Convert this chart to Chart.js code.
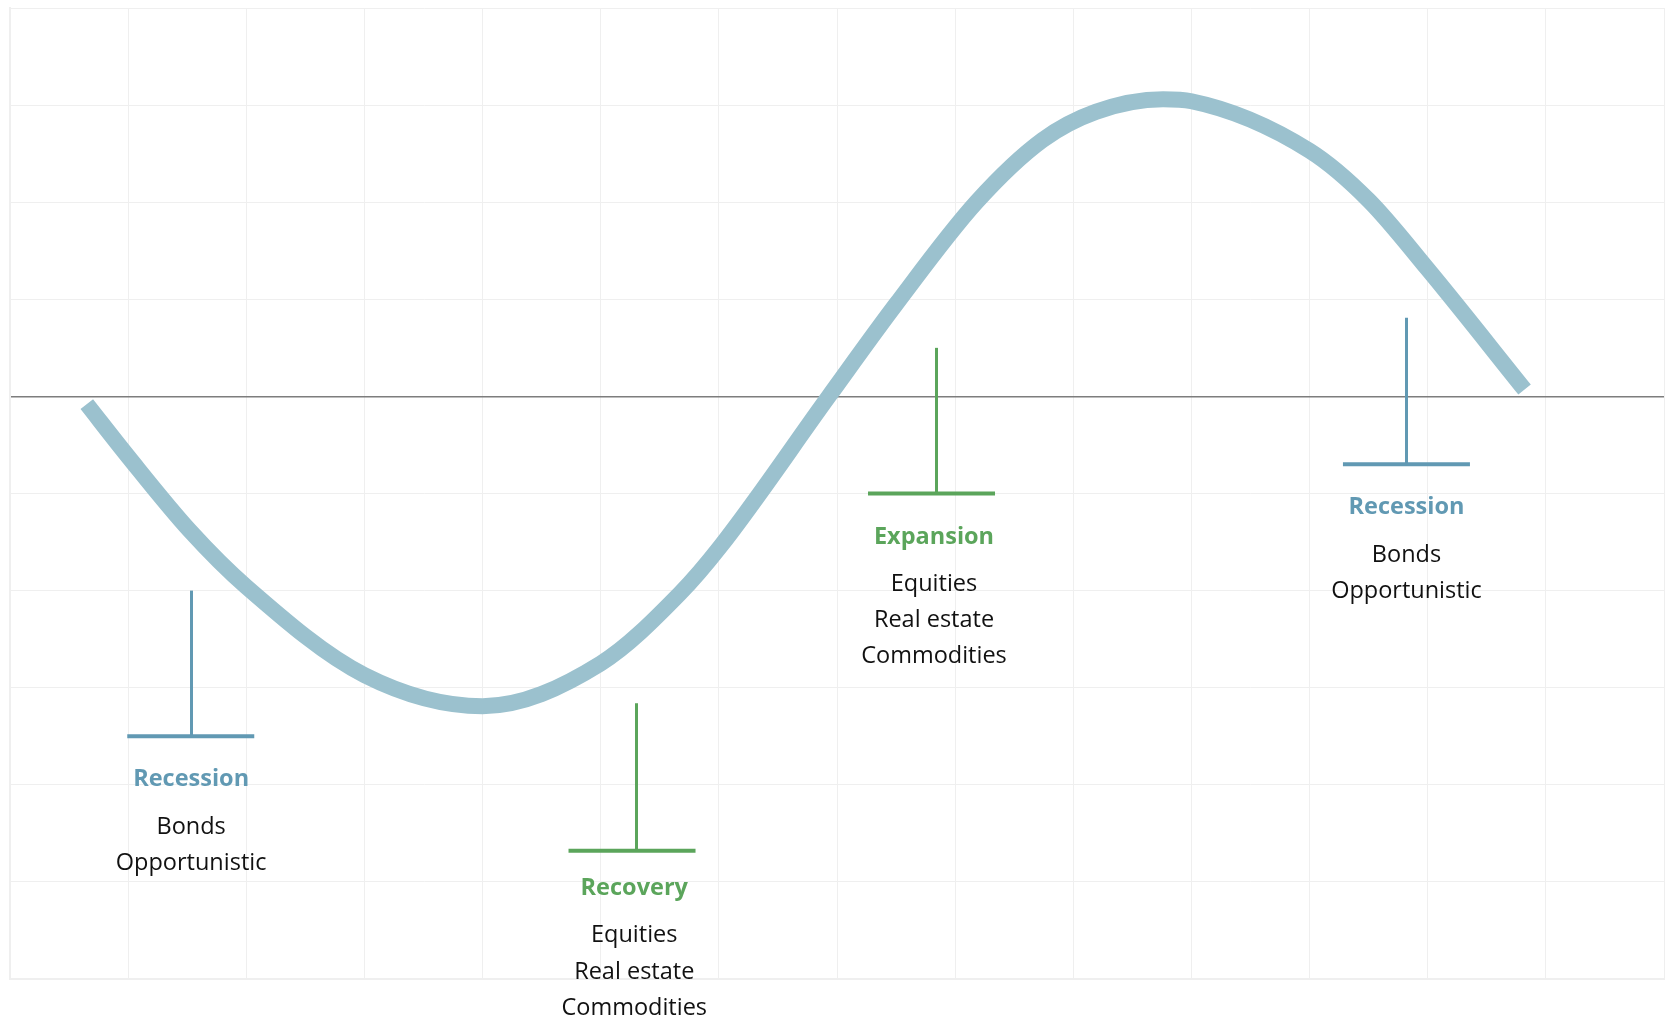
<!DOCTYPE html>
<html>
<head>
<meta charset="utf-8">
<title>Business cycle and asset allocation</title>
<script src="https://cdn.jsdelivr.net/npm/chart.js@4.4.1/dist/chart.umd.min.js"></script>
<style>
  html, body { margin: 0; padding: 0; background: #ffffff; }
  #wrap { width: 1669px; height: 1029px; }
</style>
</head>
<body>
<div id="wrap"><canvas id="cycle" width="1669" height="1029"></canvas></div>
<script>
// Business-cycle curve (x = time, y = activity relative to trend)
const curveX = [0.65, 1.0, 1.52, 2.0, 3.0, 4.0, 5.0, 5.67, 6.01, 6.93, 7.5, 8.18, 8.74, 9.19, 9.76, 10.0, 11.0, 11.5, 12.0, 12.82];
const curveY = [-0.08, -0.62, -1.38, -1.96, -2.87, -3.19, -2.75, -2.03, -1.55, 0.0, 0.95, 2.0, 2.64, 2.93, 3.06, 3.04, 2.53, 2.02, 1.31, 0.07];

// Axis extent
const xRange = [0, 14];
const yRange = [-6, 4];

// Phase markers: name, stem position, bar centre, stem top, stem base, recommended assets
const phaseNames  = ['Recession', 'Recovery', 'Expansion', 'Recession'];
const phaseKinds  = ['contraction', 'growth', 'growth', 'contraction'];
const phaseX      = [1.53, 5.30, 7.835, 11.82];
const barX        = [1.53, 5.265, 7.80, 11.82];
const phaseTop    = [-2.0, -3.16, 0.5, 0.81];
const phaseBase   = [-3.5, -4.68, -1.0, -0.70];
const phaseAssets = [
  ['Bonds', 'Opportunistic'],
  ['Equities', 'Real estate', 'Commodities'],
  ['Equities', 'Real estate', 'Commodities'],
  ['Bonds', 'Opportunistic']
];

// Styling
const kindColor = { contraction: '#6199b3', growth: '#5ba55b' };
const titleGap = [50, 44, 50, 50];   // px from the bar to the phase title baseline
const FONT = '"Open Sans", "Noto Sans", sans-serif';

const curvePoints = curveX.map((x, i) => ({ x: x, y: curveY[i] }));

const phaseMarkers = {
  id: 'phaseMarkers',
  afterDatasetsDraw(chart) {
    const ctx = chart.ctx;
    const xs = chart.scales.x, ys = chart.scales.y;
    const halfBar = 63.5;
    ctx.save();
    phaseNames.forEach((name, i) => {
      const color = kindColor[phaseKinds[i]];
      const px = Math.round(xs.getPixelForValue(phaseX[i])) + 0.5;
      const bx = xs.getPixelForValue(barX[i]);
      const tx = (px + bx) / 2;
      const pTop = ys.getPixelForValue(phaseTop[i]);
      const pBase = ys.getPixelForValue(phaseBase[i]);
      ctx.strokeStyle = color;
      ctx.lineCap = 'butt';
      ctx.lineWidth = 3;
      ctx.beginPath();
      ctx.moveTo(px, pTop);
      ctx.lineTo(px, pBase);
      ctx.stroke();
      ctx.lineWidth = 4;
      ctx.beginPath();
      ctx.moveTo(bx - halfBar, pBase);
      ctx.lineTo(bx + halfBar, pBase);
      ctx.stroke();

      ctx.textAlign = 'center';
      ctx.textBaseline = 'alphabetic';
      ctx.fillStyle = color;
      ctx.font = '700 23.5px ' + FONT;
      const titleY = pBase + titleGap[i];
      ctx.fillText(name, tx, titleY);
      ctx.fillStyle = '#111111';
      ctx.font = '400 23.5px ' + FONT;
      phaseAssets[i].forEach((a, j) => {
        ctx.fillText(a, tx, titleY + 47.5 + j * 36.2);
      });
    });
    ctx.restore();
  }
};

function build() {
  new Chart(document.getElementById('cycle'), {
    type: 'line',
    data: {
      datasets: [{
        data: curvePoints,
        borderColor: '#9bc1ce',
        borderWidth: 16,
        borderCapStyle: 'butt',
        borderJoinStyle: 'round',
        pointRadius: 0,
        cubicInterpolationMode: 'monotone',
        fill: false
      }]
    },
    options: {
      responsive: false,
      animation: false,
      layout: { padding: { left: 10, top: 8, right: 5, bottom: 50 } },
      plugins: { legend: { display: false }, tooltip: { enabled: false } },
      scales: {
        x: {
          type: 'linear',
          min: xRange[0], max: xRange[1],
          ticks: { display: false, stepSize: 1 },
          grid: { color: '#efefef', lineWidth: 1, drawTicks: false },
          border: { display: true, color: '#efefef', width: 2 }
        },
        y: {
          min: yRange[0], max: yRange[1],
          ticks: { display: false, stepSize: 1 },
          grid: {
            drawTicks: false,
            color: c => (c.tick && c.tick.value === 0) ? '#7d7d7d' : '#efefef',
            lineWidth: c => (c.tick && c.tick.value === 0) ? 1.5 : 1
          },
          border: { display: true, color: '#efefef', width: 2 }
        }
      }
    },
    plugins: [phaseMarkers]
  });
}

if (document.fonts && document.fonts.load) {
  Promise.all([
    document.fonts.load('700 23.5px "Open Sans"'),
    document.fonts.load('400 23.5px "Open Sans"')
  ]).then(build, build);
} else {
  build();
}
</script>
</body>
</html>
